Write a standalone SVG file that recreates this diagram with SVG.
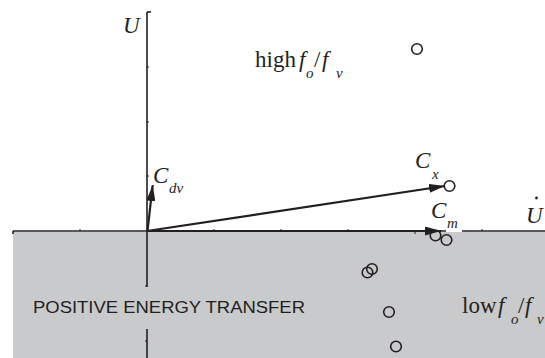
<svg xmlns="http://www.w3.org/2000/svg" width="545" height="358" viewBox="0 0 545 358">
<defs>
<style>
.ax{stroke:#231f20;stroke-width:1.6;fill:none}
.tk{stroke:#231f20;stroke-width:1;fill:none}
.vec{stroke:#231f20;stroke-width:2.2;fill:none}
.pt{stroke:#231f20;stroke-width:1.6;fill:none}
.m{font-family:"Liberation Serif",serif;font-style:italic;fill:#231f20}
.r{font-family:"Liberation Serif",serif;fill:#231f20}
.s{font-family:"Liberation Sans",Arial,sans-serif;fill:#231f20}
</style>
<marker id="ah" viewBox="0 0 16 9" refX="16" refY="4.5" markerWidth="16" markerHeight="9" markerUnits="userSpaceOnUse" orient="auto">
<path d="M0,0 L16,4.5 L0,9 Z" fill="#231f20"/>
</marker>
</defs>
<rect x="13" y="232" width="532" height="126" fill="#c9cacc"/>
<g id="axes">
<line class="ax" x1="13" y1="231" x2="545" y2="231"/>
<line class="ax" x1="13" y1="231" x2="13" y2="234"/>
<line class="ax" x1="147" y1="12" x2="147" y2="358"/>
<line class="ax" x1="147" y1="12" x2="151" y2="12"/>
<path class="tk" d="M80,231v-2 M214,231v-2 M281,231v-2 M348,231v-2 M415,231v3 M482,231v-2 M147,67h2 M147,122h2 M147,176h2 M147,286h-2 M147,341h-2"/>
</g>
<g id="legend-positive">
<rect x="140" y="287" width="14" height="42" fill="#c9cacc"/>
<text class="s" x="33" y="313" font-size="16" textLength="272" lengthAdjust="spacingAndGlyphs">POSITIVE ENERGY TRANSFER</text>
</g>
<g id="connectors">
<line class="vec" x1="147.5" y1="231" x2="152.7" y2="185" marker-end="url(#ah)"/>
<line class="vec" x1="147" y1="231" x2="445" y2="186" marker-end="url(#ah)"/>
<line class="vec" x1="147" y1="231" x2="441" y2="231" marker-end="url(#ah)"/>
</g>
<g id="points">
<circle class="pt" cx="417" cy="49" r="5.3"/>
<circle class="pt" cx="449.5" cy="186" r="5.3"/>
<circle class="pt" cx="435.5" cy="235.5" r="5.3"/>
<circle class="pt" cx="446.5" cy="240" r="5.3"/>
<circle class="pt" cx="372" cy="269" r="5.3"/>
<circle class="pt" cx="367.5" cy="272.5" r="5.3"/>
<circle class="pt" cx="389" cy="312" r="5.3"/>
<circle class="pt" cx="396" cy="346.5" r="5.3"/>
</g>
<g id="label-U">
<text class="m" x="123" y="33" font-size="23">U</text>
</g>
<g id="label-Udot">
<text class="m" x="526" y="223" font-size="23">U</text>
<circle cx="536.5" cy="198" r="1.4" fill="#231f20"/>
</g>
<g id="label-high">
<text class="r" x="255" y="67" font-size="23">high</text>
<text class="m" x="299" y="67" font-size="23">f</text>
<text class="m" x="306" y="78" font-size="15">o</text>
<text class="r" x="314" y="67" font-size="23">/</text>
<text class="m" x="322" y="67" font-size="23">f</text>
<text class="m" x="336" y="78" font-size="15">v</text>
</g>
<g id="label-low">
<text class="r" x="462" y="313" font-size="23">low</text>
<text class="m" x="498" y="313" font-size="23">f</text>
<text class="m" x="511" y="324" font-size="15">o</text>
<text class="r" x="518" y="313" font-size="23">/</text>
<text class="m" x="525" y="313" font-size="23">f</text>
<text class="m" x="537" y="324" font-size="15">v</text>
</g>
<g id="label-Cdv">
<text class="m" x="153" y="183" font-size="23">C</text>
<text class="m" x="169" y="193" font-size="15">dv</text>
</g>
<g id="label-Cx">
<text class="m" x="415" y="168" font-size="23">C</text>
<text class="m" x="432" y="179" font-size="15">x</text>
</g>
<g id="label-Cm">
<rect x="446" y="219" width="16" height="13" fill="#ffffff"/>
<text class="m" x="431" y="218" font-size="23">C</text>
<text class="m" x="447" y="228" font-size="15">m</text>
</g>
</svg>
